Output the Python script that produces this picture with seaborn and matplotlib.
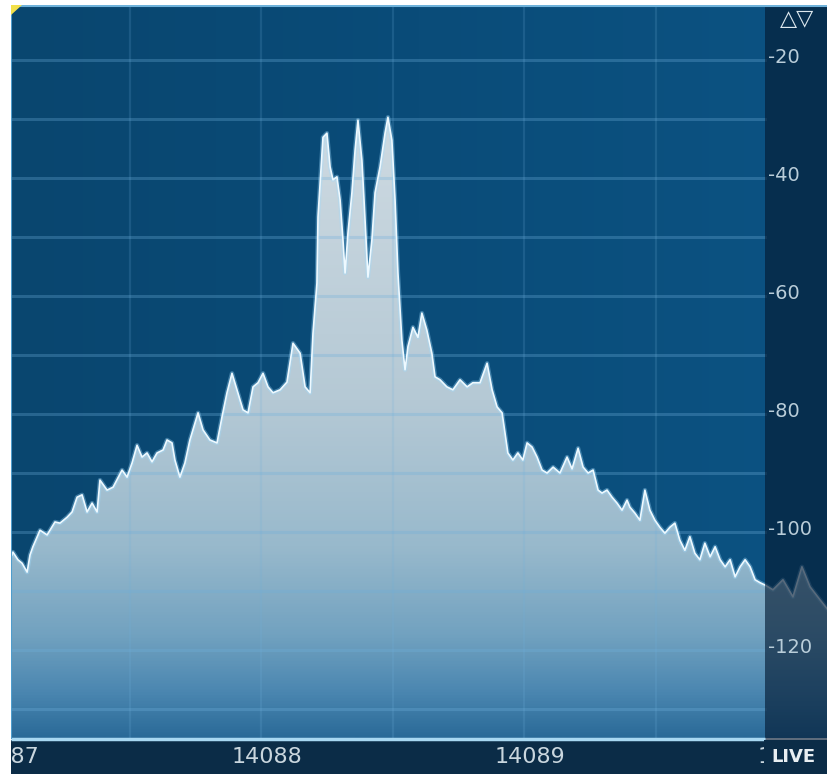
import numpy as np
import matplotlib
matplotlib.use("Agg")
import matplotlib.pyplot as plt
from matplotlib.colors import LinearSegmentedColormap
from matplotlib.patches import Rectangle, Polygon
from matplotlib.transforms import Bbox, TransformedBbox
import seaborn as sns

# Spectrum trace: frequency offset from 14087 kHz (Hz) and level (dB)
freq_hz = [163, 167, 186, 202, 221, 232, 243, 270, 297, 327, 346, 373, 392, 411, 430,
           449, 468, 487, 498, 525, 548, 582, 601, 620, 639, 658, 677, 696, 715, 738,
           753, 772, 783, 802, 821, 840, 871, 890, 916, 943, 962, 981, 1000, 1019, 1042,
           1061, 1080, 1099, 1118, 1137, 1156, 1183, 1209, 1232, 1259, 1278, 1297, 1308,
           1323, 1327, 1335, 1346, 1361, 1373, 1384, 1399, 1411, 1422, 1430, 1441, 1456,
           1468, 1479, 1494, 1502, 1517, 1532, 1544, 1563, 1582, 1593, 1608, 1620, 1631,
           1646, 1658, 1669, 1688, 1707, 1722, 1741, 1760, 1772, 1791, 1817, 1840, 1867,
           1894, 1916, 1943, 1970, 1989, 2008, 2027, 2038, 2049, 2068, 2087, 2106, 2122,
           2141, 2160, 2179, 2198, 2221, 2247, 2274, 2293, 2316, 2335, 2354, 2373, 2392,
           2407, 2426, 2445, 2464, 2483, 2502, 2513, 2532, 2551, 2570, 2589, 2608, 2627,
           2646, 2665, 2684, 2703, 2722, 2741, 2760, 2779, 2798, 2818, 2837, 2856, 2875,
           2894, 2913, 2932, 2951, 2970, 2989, 3008, 3027, 3057, 3095, 3133, 3167, 3198,
           3236, 3266]
level_db = [-103.9, -103.4, -104.7, -105.3, -106.8, -103.9, -102.5, -99.7, -100.5, -98.3,
            -98.5, -97.5, -96.6, -94.1, -93.7, -96.6, -95.1, -96.6, -91.2, -92.9, -92.4,
            -89.5, -90.7, -88.3, -85.3, -87.3, -86.6, -88.1, -86.6, -86.1, -84.4, -84.9,
            -87.8, -90.7, -88.3, -84.4, -79.8, -82.7, -84.4, -84.9, -80.5, -76.4, -73.1,
            -75.9, -79.3, -79.8, -75.4, -74.7, -73.1, -75.4, -76.4, -75.9, -74.6, -68.0,
            -69.7, -75.4, -76.4, -66.3, -57.8, -46.6, -40.8, -33.1, -32.4, -38.1, -40.3,
            -39.8, -43.7, -50.5, -56.1, -49.3, -42.5, -35.3, -30.2, -37.0, -43.7, -56.8,
            -50.5, -42.5, -38.1, -32.4, -29.7, -33.6, -43.7, -56.1, -67.5, -72.5, -68.6,
            -65.3, -67.0, -62.9, -65.8, -69.7, -73.7, -74.2, -75.4, -75.9, -74.2, -75.4,
            -74.7, -74.7, -71.4, -75.9, -78.8, -79.8, -83.2, -86.6, -87.8, -86.6, -87.8,
            -84.9, -85.6, -87.3, -89.5, -90.0, -89.0, -90.0, -87.3, -89.3, -85.8, -89.0,
            -90.0, -89.5, -92.9, -93.4, -92.9, -94.1, -95.1, -96.3, -94.6, -95.8, -96.8,
            -98.0, -92.9, -96.3, -98.0, -99.2, -100.2, -99.2, -98.5, -101.4, -103.1,
            -100.8, -103.6, -104.7, -101.9, -104.2, -102.5, -104.7, -105.9, -104.7,
            -107.6, -105.9, -104.7, -105.9, -108.1, -108.6, -109.0, -109.8, -108.1,
            -111.0, -105.9, -109.3, -111.5, -113.2]

freq_tick_hz = [0, 1000, 2000, 3000]
freq_tick_labels = ["14087", "14088", "14089", "14090"]
freq_grid_hz = [612, 1112, 1612, 2112, 2612]
level_grid_db = [-20, -30, -40, -50, -60, -70, -80, -90, -100, -110, -120, -130]
level_tick_db = [-20, -40, -60, -80, -100, -120]
level_tick_labels = ["-20", "-40", "-60", "-80", "-100", "-120"]

W, H = 828, 774
fig = plt.figure(figsize=(W / 100, H / 100), dpi=100)
ax = fig.add_axes([0, 0, 1, 1])
X0, X1 = 117.9, 3266.2
Y0, Y1 = -141.02, -9.83


def fx(px):
    return px / W


def fy(py):
    return 1 - py / H


def dx(px):
    return X0 + (X1 - X0) * px / W


def dy(py):
    return Y1 - (Y1 - Y0) * py / H


# panel background with a slight left-to-right shading
bg_cmap = LinearSegmentedColormap.from_list("bg", ["#09466f", "#0a4c79", "#0c5383"])
bg = np.linspace(0, 1, 256)[None, :]
ax.imshow(bg, extent=[dx(11), dx(828), dy(738), dy(5)], cmap=bg_cmap,
          aspect="auto", zorder=0, interpolation="bilinear")

# filled spectrum with vertical gradient
floor_db = dy(738)
poly = ax.fill_between(freq_hz, level_db, floor_db, color="none", lw=0, zorder=1)
stops = [(0.0, "#d6e0e6"), (0.2, "#cbd8e0"), (0.54, "#b5c9d5"), (0.74, "#98b9cc"),
         (0.86, "#72a2c0"), (0.94, "#4a86b0"), (1.0, "#2a6a98")]
fill_cmap = LinearSegmentedColormap.from_list("fill", stops)
grad = np.linspace(0, 1, 512)[:, None]
img = ax.imshow(grad, extent=[X0, X1, floor_db, dy(5)], cmap=fill_cmap,
                aspect="auto", zorder=2, interpolation="bilinear")
img.set_clip_path(poly.get_paths()[0], transform=ax.transData)

# grid
for db in level_grid_db:
    ax.axhline(db, xmin=fx(11), xmax=fx(765), color="#6fb0dc", alpha=0.3, lw=2.2, zorder=3)
for hz in freq_grid_hz:
    ax.axvline(hz, ymin=fy(738), ymax=fy(5), color="#6fb0dc", alpha=0.18, lw=1.6, zorder=3)

# trace outline
sns.lineplot(x=freq_hz, y=level_db, ax=ax, color="#9fdcff", lw=3.2, alpha=0.35,
             sort=False, zorder=4)
sns.lineplot(x=freq_hz, y=level_db, ax=ax, color="#eef9ff", lw=1.2,
             sort=False, zorder=5)

# level scale panel on the right
ax.add_patch(Rectangle((fx(765), fy(740)), fx(828) - fx(765), fy(5) - fy(740),
                       transform=ax.transAxes, color="#041a32", alpha=0.64, lw=0, zorder=6))
for db, lab in zip(level_tick_db, level_tick_labels):
    ax.text(dx(768), db + 0.5, lab, ha="left", va="center", fontsize=14,
            color="#b9cdd9", zorder=8)
ax.text(fx(797), fy(19), "\u25b3\u25bd", transform=ax.transAxes, ha="center",
        va="center", fontsize=16, fontweight="bold", color="#dde8ee", zorder=8)

# frequency strip along the bottom
ax.add_patch(Rectangle((0, 0), 1, fy(740), transform=ax.transAxes,
                       color="#0b2c47", lw=0, zorder=6))
ax.plot([fx(11), fx(765)], [fy(738.5), fy(738.5)], transform=ax.transAxes,
        color="#a8d8f2", lw=2.5, zorder=7, solid_capstyle="butt")
label_box = TransformedBbox(Bbox([[fx(11), 0], [fx(764), 1]]), ax.transAxes)
for hz, lab in zip(freq_tick_hz, freq_tick_labels):
    t = ax.text(hz, dy(757), lab, ha="left", va="center", fontsize=16,
                color="#c9d6de", zorder=8, clip_on=True)
    t.set_clip_box(label_box)
ax.add_patch(Rectangle((fx(764), 0), fx(828) - fx(764), fy(740), transform=ax.transAxes,
                       color="#0b2c47", lw=0, zorder=9))
ax.text(fx(771), fy(757), "LIVE", transform=ax.transAxes, ha="left", va="center",
        fontsize=13, fontweight="bold", color="#e8eef2", zorder=10)

# frame edges
ax.plot([fx(11.5), fx(11.5)], [fy(738), fy(5)], transform=ax.transAxes,
        color="#4f9dcd", lw=1.5, zorder=7)
ax.plot([fx(11), fx(828)], [fy(5.5), fy(5.5)], transform=ax.transAxes,
        color="#6fb2da", lw=1.5, zorder=7)

# white margins
ax.add_patch(Rectangle((0, 0), fx(11), 1, transform=ax.transAxes, color="white",
                       lw=0, zorder=11))
ax.add_patch(Rectangle((0, fy(5)), 1, 1 - fy(5), transform=ax.transAxes, color="white",
                       lw=0, zorder=11))

# corner marker
ax.add_patch(Polygon([(fx(11), fy(5)), (fx(22), fy(5)), (fx(11), fy(15))],
                     closed=True, transform=ax.transAxes, color="#f2e04a",
                     lw=0, zorder=12))

ax.set_xlim(X0, X1)
ax.set_ylim(Y0, Y1)
ax.axis("off")
fig.savefig("out.png", dpi=100)
